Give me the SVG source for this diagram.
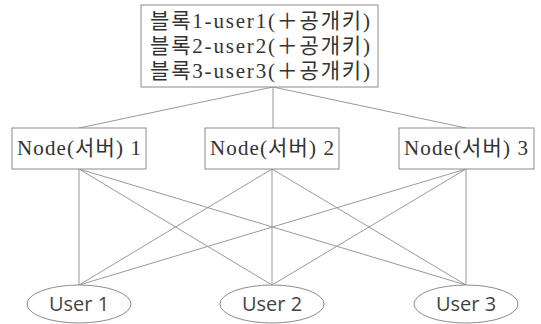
<svg xmlns="http://www.w3.org/2000/svg" width="541" height="324" viewBox="0 0 541 324">
<style>
.box{fill:#fff;stroke:#8c8c8c;stroke-width:1}
.ell{fill:#fff;stroke:#8c8c8c;stroke-width:1}
.ln{stroke:#999;stroke-width:1;fill:none}
.t{font-family:"Liberation Serif","Noto Sans CJK KR",serif;font-size:21px;fill:#333;text-anchor:middle}
.u{font-family:"Open Sans","Noto Sans",sans-serif;font-size:20px;fill:#444;text-anchor:middle}
</style>
<rect width="541" height="324" fill="#fff"/>
<g id="connectors">
<line class="ln" x1="273" y1="87" x2="273" y2="128"/>
<line class="ln" x1="273" y1="87" x2="79" y2="128"/>
<line class="ln" x1="273" y1="87" x2="466" y2="128"/>
<line class="ln" x1="79" y1="169" x2="79" y2="285"/>
<line class="ln" x1="79" y1="169" x2="272" y2="285"/>
<line class="ln" x1="79" y1="169" x2="466" y2="285"/>
<line class="ln" x1="272" y1="169" x2="79" y2="285"/>
<line class="ln" x1="272" y1="169" x2="272" y2="285"/>
<line class="ln" x1="272" y1="169" x2="466" y2="285"/>
<line class="ln" x1="466" y1="169" x2="79" y2="285"/>
<line class="ln" x1="466" y1="169" x2="272" y2="285"/>
<line class="ln" x1="466" y1="169" x2="466" y2="285"/>
</g>
<g id="blocks">
<rect class="box" x="141" y="5" width="237" height="82"/>
<text class="t" x="260" y="28" textLength="220" lengthAdjust="spacing">블록1-user1(＋공개키)</text>
<text class="t" x="260" y="53" textLength="220" lengthAdjust="spacing">블록2-user2(＋공개키)</text>
<text class="t" x="260" y="78" textLength="220" lengthAdjust="spacing">블록3-user3(＋공개키)</text>
</g>
<g id="node1">
<rect class="box" x="12" y="128" width="134" height="41"/>
<text class="t" x="79" y="155" textLength="124" lengthAdjust="spacing">Node(서버) 1</text>
</g>
<g id="node2">
<rect class="box" x="205" y="128" width="134" height="41"/>
<text class="t" x="272" y="155" textLength="124" lengthAdjust="spacing">Node(서버) 2</text>
</g>
<g id="node3">
<rect class="box" x="399" y="128" width="135" height="41"/>
<text class="t" x="466" y="155" textLength="124" lengthAdjust="spacing">Node(서버) 3</text>
</g>
<g id="user1">
<ellipse class="ell" cx="79" cy="304" rx="52" ry="19"/>
<text class="u" x="79" y="311">User 1</text>
</g>
<g id="user2">
<ellipse class="ell" cx="272" cy="304" rx="52" ry="19"/>
<text class="u" x="272" y="311">User 2</text>
</g>
<g id="user3">
<ellipse class="ell" cx="466" cy="304" rx="52" ry="19"/>
<text class="u" x="466" y="311">User 3</text>
</g>
</svg>
